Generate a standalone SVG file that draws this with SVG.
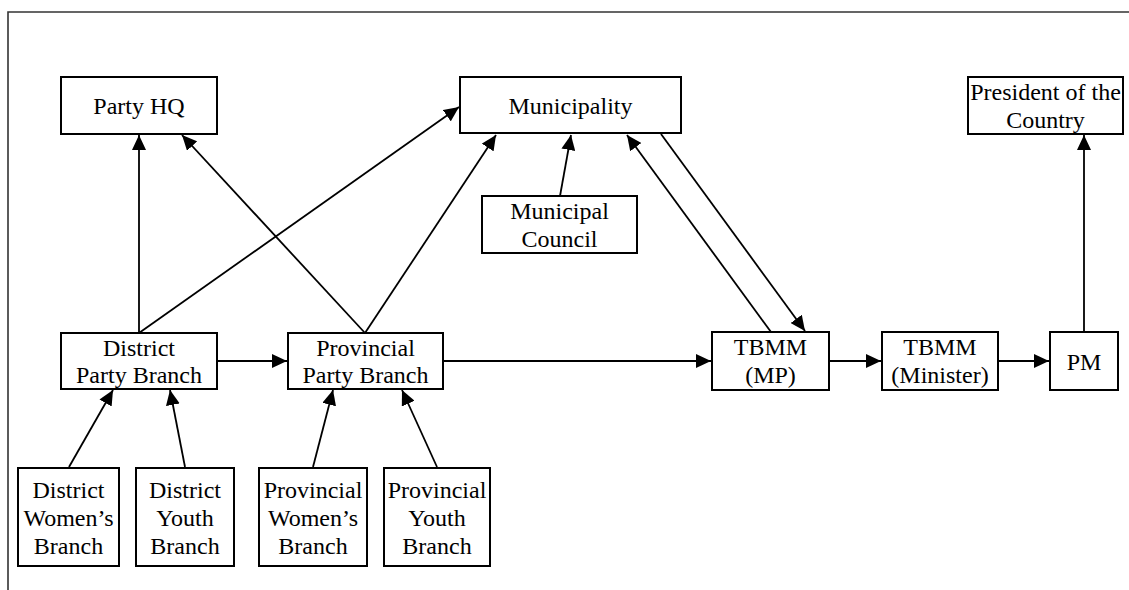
<svg xmlns="http://www.w3.org/2000/svg" width="1129" height="590" viewBox="0 0 1129 590">
<style>
.box{fill:#fff;stroke:#000;stroke-width:2}
.lbl{font-family:"Liberation Serif","Times New Roman",serif;font-size:24px;fill:#000;text-anchor:middle}
.edge{stroke:#000;stroke-width:1.8;fill:none;marker-end:url(#ah)}
.frame{stroke:#333;stroke-width:1.6;fill:none}
</style>
<defs>
<marker id="ah" markerUnits="userSpaceOnUse" markerWidth="16" markerHeight="14" refX="15" refY="7" orient="auto">
<path d="M0,0 L15,7 L0,14 Z" fill="#000"/>
</marker>
</defs>
<rect width="1129" height="590" fill="#fff"/>
<path class="frame" d="M8,590 V12 H1129"/>
<g id="connectors">
<line class="edge" x1="139" y1="333" x2="139" y2="135"/>
<line class="edge" x1="139" y1="333" x2="459" y2="107"/>
<line class="edge" x1="365" y1="333" x2="182" y2="135"/>
<line class="edge" x1="365" y1="333" x2="496" y2="135"/>
<line class="edge" x1="560" y1="196" x2="571" y2="135"/>
<line class="edge" x1="771" y1="332" x2="627" y2="135"/>
<line class="edge" x1="661" y1="134" x2="805" y2="331"/>
<line class="edge" x1="217" y1="361" x2="287" y2="361"/>
<line class="edge" x1="443" y1="361" x2="711" y2="361"/>
<line class="edge" x1="829" y1="361" x2="881" y2="361"/>
<line class="edge" x1="998" y1="361" x2="1049" y2="361"/>
<line class="edge" x1="1084" y1="332" x2="1084" y2="135"/>
<line class="edge" x1="69" y1="467" x2="113" y2="390"/>
<line class="edge" x1="185" y1="467" x2="170" y2="390"/>
<line class="edge" x1="313" y1="467" x2="333" y2="390"/>
<line class="edge" x1="437" y1="467" x2="402" y2="390"/>
</g>
<g id="party-hq">
<rect class="box" x="61" y="77" width="156" height="57"/>
<text class="lbl" x="139" y="114">Party HQ</text>
</g>
<g id="municipality">
<rect class="box" x="460" y="77" width="221" height="56"/>
<text class="lbl" x="570.5" y="114">Municipality</text>
</g>
<g id="president">
<rect class="box" x="968" y="77" width="155" height="57"/>
<text class="lbl" x="1045.5" y="100">President of the</text>
<text class="lbl" x="1045.5" y="127.5">Country</text>
</g>
<g id="municipal-council">
<rect class="box" x="482" y="196" width="155" height="57"/>
<text class="lbl" x="559.5" y="219">Municipal</text>
<text class="lbl" x="559.5" y="246.5">Council</text>
</g>
<g id="district-party-branch">
<rect class="box" x="61" y="333" width="156" height="56"/>
<text class="lbl" x="139" y="356">District</text>
<text class="lbl" x="139" y="383">Party Branch</text>
</g>
<g id="provincial-party-branch">
<rect class="box" x="288" y="333" width="155" height="56"/>
<text class="lbl" x="365.5" y="356">Provincial</text>
<text class="lbl" x="365.5" y="383">Party Branch</text>
</g>
<g id="tbmm-mp">
<rect class="box" x="712" y="332" width="117" height="58"/>
<text class="lbl" x="770.5" y="355">TBMM</text>
<text class="lbl" x="770.5" y="383">(MP)</text>
</g>
<g id="tbmm-minister">
<rect class="box" x="882" y="332" width="116" height="58"/>
<text class="lbl" x="940" y="355">TBMM</text>
<text class="lbl" x="940" y="383">(Minister)</text>
</g>
<g id="pm">
<rect class="box" x="1050" y="332" width="68" height="58"/>
<text class="lbl" x="1084" y="370">PM</text>
</g>
<g id="district-womens-branch">
<rect class="box" x="18" y="468" width="101" height="98"/>
<text class="lbl" x="68.5" y="498">District</text>
<text class="lbl" x="68.5" y="526">Women’s</text>
<text class="lbl" x="68.5" y="553.5">Branch</text>
</g>
<g id="district-youth-branch">
<rect class="box" x="136" y="468" width="98" height="98"/>
<text class="lbl" x="185" y="498">District</text>
<text class="lbl" x="185" y="526">Youth</text>
<text class="lbl" x="185" y="553.5">Branch</text>
</g>
<g id="provincial-womens-branch">
<rect class="box" x="259" y="468" width="108" height="98"/>
<text class="lbl" x="313" y="498">Provincial</text>
<text class="lbl" x="313" y="526">Women’s</text>
<text class="lbl" x="313" y="553.5">Branch</text>
</g>
<g id="provincial-youth-branch">
<rect class="box" x="384" y="468" width="106" height="98"/>
<text class="lbl" x="437" y="498">Provincial</text>
<text class="lbl" x="437" y="526">Youth</text>
<text class="lbl" x="437" y="553.5">Branch</text>
</g>
</svg>
